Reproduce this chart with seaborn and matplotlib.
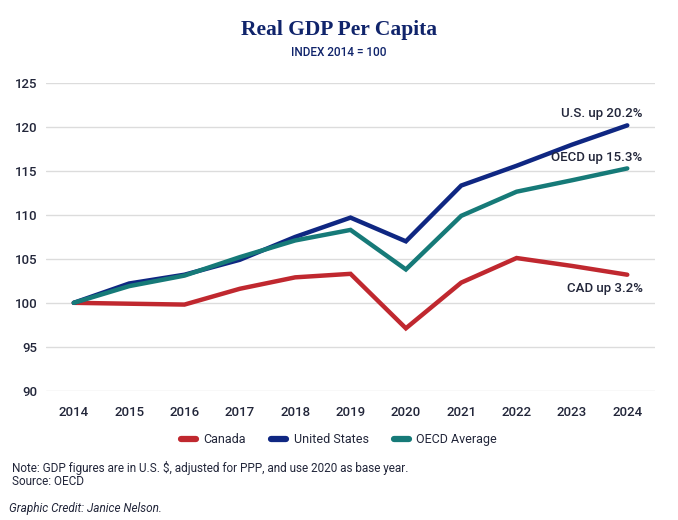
import matplotlib
matplotlib.use("Agg")
import matplotlib.pyplot as plt
import seaborn as sns
import pandas as pd
from matplotlib.lines import Line2D

years = [2014, 2015, 2016, 2017, 2018, 2019, 2020, 2021, 2022, 2023, 2024]
canada = [100.0, 99.9, 99.8, 101.6, 102.9, 103.3, 97.1, 102.3, 105.1, 104.2, 103.2]
united_states = [100.0, 102.2, 103.2, 104.9, 107.5, 109.7, 107.0, 113.35, 115.6, 118.0, 120.2]
oecd = [100.0, 101.9, 103.1, 105.2, 107.1, 108.3, 103.8, 109.9, 112.65, 113.95, 115.3]
series_names = ["Canada", "United States", "OECD Average"]
end_labels = ["CAD up 3.2%", "U.S. up 20.2%", "OECD up 15.3%"]
y_ticks = [90, 95, 100, 105, 110, 115, 120, 125]

colors = {"Canada": "#c0282f", "United States": "#0f2782", "OECD Average": "#167a78"}
text_col = "#22263a"

df = pd.DataFrame({
    "Year": years * 3,
    "Index": canada + united_states + oecd,
    "Series": [series_names[0]] * len(years) + [series_names[1]] * len(years) + [series_names[2]] * len(years),
})

sns.set_theme(style="white")
plt.rcParams["font.family"] = ["Roboto", "DejaVu Sans"]

fig = plt.figure(figsize=(6.78, 5.2), dpi=100)
ax = fig.add_axes([0.068, 0.2487, 0.898, 0.5913])

sns.lineplot(data=df, x="Year", y="Index", hue="Series", palette=colors,
             hue_order=series_names, linewidth=3.2, ax=ax, legend=False,
             solid_capstyle="round", solid_joinstyle="miter")
for ln in ax.lines:
    ln.set_clip_on(False)

ax.set_xlim(2013.5, 2024.5)
ax.set_ylim(90, 125)
ax.set_yticks(y_ticks)
ax.set_xticks(years)
ax.set_xticklabels([str(y) for y in years])
ax.grid(axis="y", color="#dcdcdc", linewidth=1.0)
ax.set_axisbelow(True)
for s in ax.spines.values():
    s.set_visible(False)
ax.tick_params(axis="both", length=0, labelsize=9.5, labelcolor=text_col)
ax.tick_params(axis="y", pad=6)
ax.tick_params(axis="x", pad=11)
for lab in ax.get_xticklabels() + ax.get_yticklabels():
    lab.set_fontweight("medium")
ax.set_xlabel("")
ax.set_ylabel("")

# End labels
last_vals = [canada[-1], united_states[-1], oecd[-1]]
offsets = [(11, -10), (11, 8.5), (11, 8)]
for lbl, v, off in zip(end_labels, last_vals, offsets):
    ax.annotate(lbl, xy=(years[-1], v), xytext=off, textcoords="offset points",
                ha="right", va="center", fontsize=9.5, color=text_col, fontweight="medium")

# Title
fig.text(0.5, 0.943, "Real GDP Per Capita", ha="center", va="center",
         fontsize=15.5, fontweight="bold", color="#10246b", family=["Liberation Serif", "DejaVu Serif"])
fig.text(0.5, 0.900, "INDEX 2014 = 100", ha="center", va="center",
         fontsize=8.5, fontweight="medium", color="#10246b")

# Legend
handles = [Line2D([0], [0], color=colors[n], lw=4.5, solid_capstyle="round") for n in series_names]
fig.legend(handles, series_names, loc="center", bbox_to_anchor=(0.5, 0.154), ncol=3,
           frameon=False, fontsize=9, handlelength=1.2, columnspacing=2.0, handletextpad=0.6,
           labelcolor=text_col)

fig.text(0.018, 0.100, "Note: GDP figures are in U.S. $, adjusted for PPP, and use 2020 as base year.",
         ha="left", va="center", fontsize=8.5, color=text_col)
fig.text(0.018, 0.074, "Source: OECD", ha="left", va="center", fontsize=8.5, color=text_col)
fig.text(0.014, 0.023, "Graphic Credit: Janice Nelson.", ha="left", va="center",
         fontsize=8.5, color=text_col, style="italic")

fig.savefig("out.png", dpi=100, facecolor="white")
